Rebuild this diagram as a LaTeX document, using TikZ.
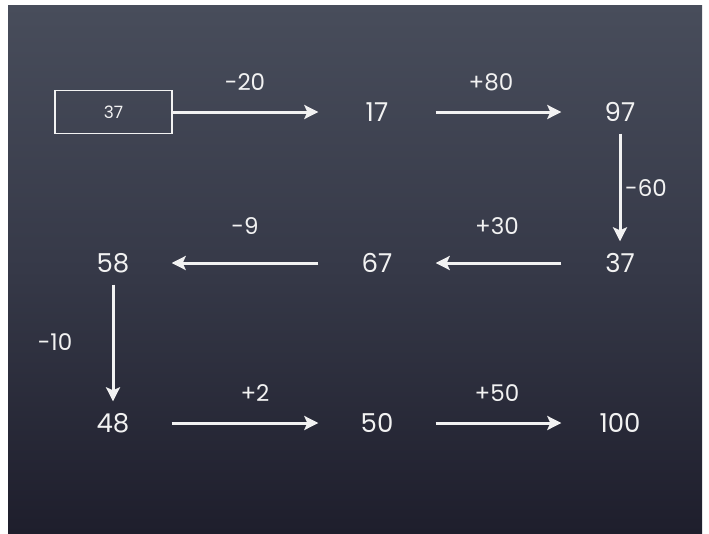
\documentclass[tikz,border=0pt]{standalone}
\usepackage{fontspec}
\setmainfont{Poppins}
\usetikzlibrary{arrows.meta}
\definecolor{chalk}{RGB}{242,242,242}
\definecolor{boardtop}{RGB}{72,77,91}
\definecolor{boardmid}{RGB}{54,57,72}
\definecolor{boardbot}{RGB}{30,30,44}
\begin{document}
\begin{tikzpicture}[x=1pt,y=-1pt,
  num/.style={minimum width=117pt,minimum height=43pt,inner sep=0pt,
    text=chalk,font=\fontsize{26}{28}\selectfont},
  startbox/.style={num,draw=chalk,line width=1.8pt,font=\fontsize{17}{19}\selectfont},
  lbl/.style={text=chalk,font=\fontsize{23}{25}\selectfont,inner sep=0pt},
  link/.style={draw=chalk,line width=3pt,-{Stealth[length=14pt,width=14pt,inset=3pt]}}]
\useasboundingbox (0,0) rectangle (709,533);
\fill[white] (0,0) rectangle (709,533);
\shade[top color=boardtop,bottom color=boardbot,middle color=boardmid] (8,5) rectangle (702,533);
% nodes
\node[startbox] (a) at (113.5,112) {37};
\node[num] (b) at (377,112) {17};
\node[num] (c) at (620,112) {97};
\node[num] (d) at (620,263) {37};
\node[num] (e) at (377,263) {67};
\node[num] (f) at (113,263) {58};
\node[num] (g) at (113,423) {48};
\node[num] (h) at (377,423) {50};
\node[num] (i) at (620,423) {100};
% arrows
\draw[link] (a.east) -- (b.west);
\draw[link] (b.east) -- (c.west);
\draw[link] (c.south) -- (d.north);
\draw[link] (d.west) -- (e.east);
\draw[link] (e.west) -- (f.east);
\draw[link] (f.south) -- (g.north);
\draw[link] (g.east) -- (h.west);
\draw[link] (h.east) -- (i.west);
% labels
\node[lbl] (la) at (245,82) {-20};
\node[lbl] (lb) at (491,82) {+80};
\node[lbl,anchor=west] (lc) at (625,188) {-60};
\node[lbl] (ld) at (497,226) {+30};
\node[lbl] (le) at (245,226) {-9};
\node[lbl] (lf) at (55,342) {-10};
\node[lbl] (lg) at (255,393) {+2};
\node[lbl] (lh) at (497,393) {+50};
\end{tikzpicture}
\end{document}
